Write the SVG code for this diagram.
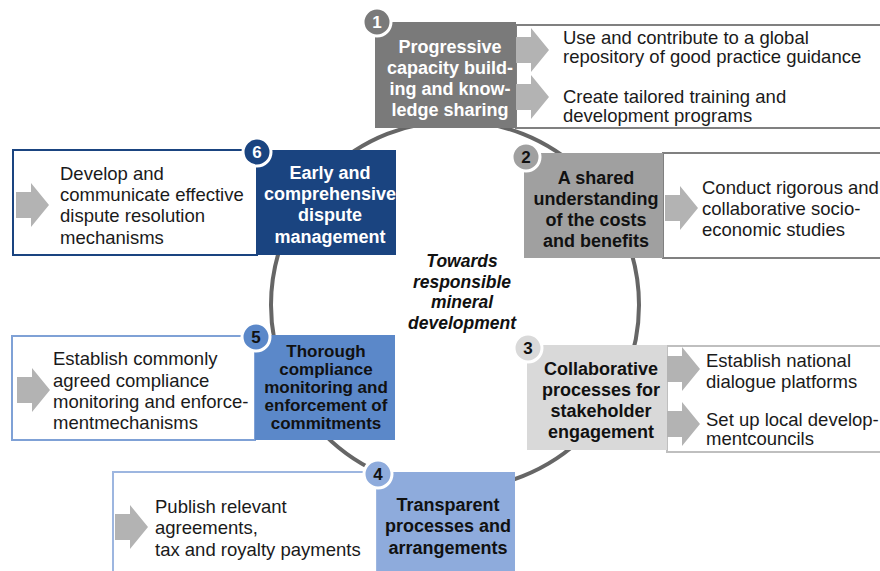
<svg xmlns="http://www.w3.org/2000/svg" width="880" height="571" viewBox="0 0 880 571">
<defs>
<style>
.body{font-family:"Liberation Sans",Arial,sans-serif;font-size:18.5px;fill:#1a1a1a}
.title{font-family:"Liberation Sans",Arial,sans-serif;font-size:18px;font-weight:bold;text-anchor:middle}
.tight{font-size:17px}
.badge{font-family:"Liberation Sans",Arial,sans-serif;font-size:17px;font-weight:bold;text-anchor:middle}
.arrow{fill:#b3b3b3}
.center{font-family:"Liberation Sans",Arial,sans-serif;font-size:17.5px;font-weight:bold;font-style:italic;text-anchor:middle;fill:#111}
</style>
<path id="arr" d="M0,-13 H15 V-22 L33,0 L15,22 V13 H0 Z"/>
</defs>
<rect width="880" height="571" fill="#ffffff"/>
<g id="connectors">
<circle cx="455" cy="305" r="184" fill="none" stroke="#666666" stroke-width="4"/>
</g>
<g class="center">
<text x="462" y="267">Towards</text>
<text x="462" y="288">responsible</text>
<text x="462" y="308">mineral</text>
<text x="462" y="329">development</text>
</g>
<g id="node1">
<rect x="516" y="25" width="366" height="103" fill="#fff" stroke="#808080" stroke-width="2"/>
<rect x="375" y="22" width="141" height="106" fill="#7a7a7a"/>
<use href="#arr" x="516" y="50" class="arrow"/>
<use href="#arr" x="516" y="97" class="arrow"/>
<circle cx="377" cy="22" r="14" fill="#7a7a7a" stroke="#fff" stroke-width="3"/>
<text class="badge" x="377" y="28" fill="#fff">1</text>
<g class="title" fill="#fff">
<text x="450" y="53">Progressive</text>
<text x="450" y="74">capacity build-</text>
<text x="450" y="95">ing and know-</text>
<text x="450" y="116">ledge sharing</text>
</g>
<text class="body" x="563" y="44">Use and contribute to a global</text>
<text class="body" x="563" y="63">repository of good practice guidance</text>
<text class="body" x="563" y="103">Create tailored training and</text>
<text class="body" x="563" y="122">development programs</text>
</g>
<g id="node2">
<rect x="663" y="153" width="219" height="105" fill="#fff" stroke="#808080" stroke-width="2"/>
<rect x="524" y="153" width="139" height="105" fill="#a0a0a0"/>
<use href="#arr" x="665" y="208" class="arrow"/>
<circle cx="526" cy="157" r="14" fill="#a0a0a0" stroke="#fff" stroke-width="3"/>
<text class="badge" x="526" y="163" fill="#111">2</text>
<g class="title" fill="#111">
<text x="596" y="184">A shared</text>
<text x="596" y="205">understanding</text>
<text x="596" y="226">of the costs</text>
<text x="596" y="247">and benefits</text>
</g>
<text class="body" x="702" y="194">Conduct rigorous and</text>
<text class="body" x="702" y="215">collaborative socio-</text>
<text class="body" x="702" y="236">economic studies</text>
</g>
<g id="node3">
<rect x="667" y="346" width="215" height="106" fill="#fff" stroke="#bfbfbf" stroke-width="2"/>
<rect x="527" y="345" width="140" height="105" fill="#d9d9d9"/>
<use href="#arr" x="667" y="369" class="arrow"/>
<use href="#arr" x="667" y="424" class="arrow"/>
<circle cx="528" cy="348" r="14" fill="#d9d9d9" stroke="#fff" stroke-width="3"/>
<text class="badge" x="528" y="354" fill="#111">3</text>
<g class="title" fill="#111">
<text x="601" y="375">Collaborative</text>
<text x="601" y="396">processes for</text>
<text x="601" y="417">stakeholder</text>
<text x="601" y="438">engagement</text>
</g>
<text class="body" x="706" y="367">Establish national</text>
<text class="body" x="706" y="388">dialogue platforms</text>
<text class="body" x="706" y="426">Set up local develop-</text>
<text class="body" x="706" y="445">mentcouncils</text>
</g>
<g id="node4">
<rect x="113" y="472" width="264" height="104" fill="#fff" stroke="#9db6e0" stroke-width="2"/>
<rect x="377" y="472" width="138" height="104" fill="#8eabdc"/>
<use href="#arr" x="115" y="527" class="arrow"/>
<circle cx="378" cy="474" r="14" fill="#8eabdc" stroke="#fff" stroke-width="3"/>
<text class="badge" x="378" y="480" fill="#111">4</text>
<g class="title" fill="#111">
<text x="448" y="511">Transparent</text>
<text x="448" y="532">processes and</text>
<text x="448" y="554">arrangements</text>
</g>
<text class="body" x="155" y="513">Publish relevant</text>
<text class="body" x="155" y="534">agreements,</text>
<text class="body" x="155" y="556">tax and royalty payments</text>
</g>
<g id="node5">
<rect x="12" y="336" width="243" height="104" fill="#fff" stroke="#7fa1d6" stroke-width="2"/>
<rect x="255" y="335" width="140" height="105" fill="#5b88c9"/>
<use href="#arr" x="17" y="390" class="arrow"/>
<circle cx="256" cy="337" r="14" fill="#5b88c9" stroke="#fff" stroke-width="3"/>
<text class="badge" x="256" y="343" fill="#111">5</text>
<g class="title tight" fill="#111">
<text x="326" y="357">Thorough</text>
<text x="326" y="375">compliance</text>
<text x="326" y="393">monitoring and</text>
<text x="326" y="411">enforcement of</text>
<text x="326" y="429">commitments</text>
</g>
<text class="body" x="53" y="365">Establish commonly</text>
<text class="body" x="53" y="387">agreed compliance</text>
<text class="body" x="53" y="408">monitoring and enforce-</text>
<text class="body" x="53" y="429">mentmechanisms</text>
</g>
<g id="node6">
<rect x="13" y="150" width="244" height="105" fill="#fff" stroke="#1a4480" stroke-width="2"/>
<rect x="257" y="150" width="139" height="105" fill="#1a4480"/>
<use href="#arr" x="16" y="205" class="arrow"/>
<circle cx="257" cy="152" r="14" fill="#1a4480" stroke="#fff" stroke-width="3"/>
<text class="badge" x="257" y="158" fill="#fff">6</text>
<g class="title" fill="#fff">
<text x="330" y="179">Early and</text>
<text x="330" y="200">comprehensive</text>
<text x="330" y="221">dispute</text>
<text x="330" y="243">management</text>
</g>
<text class="body" x="60" y="180">Develop and</text>
<text class="body" x="60" y="201">communicate effective</text>
<text class="body" x="60" y="222">dispute resolution</text>
<text class="body" x="60" y="244">mechanisms</text>
</g>
</svg>
